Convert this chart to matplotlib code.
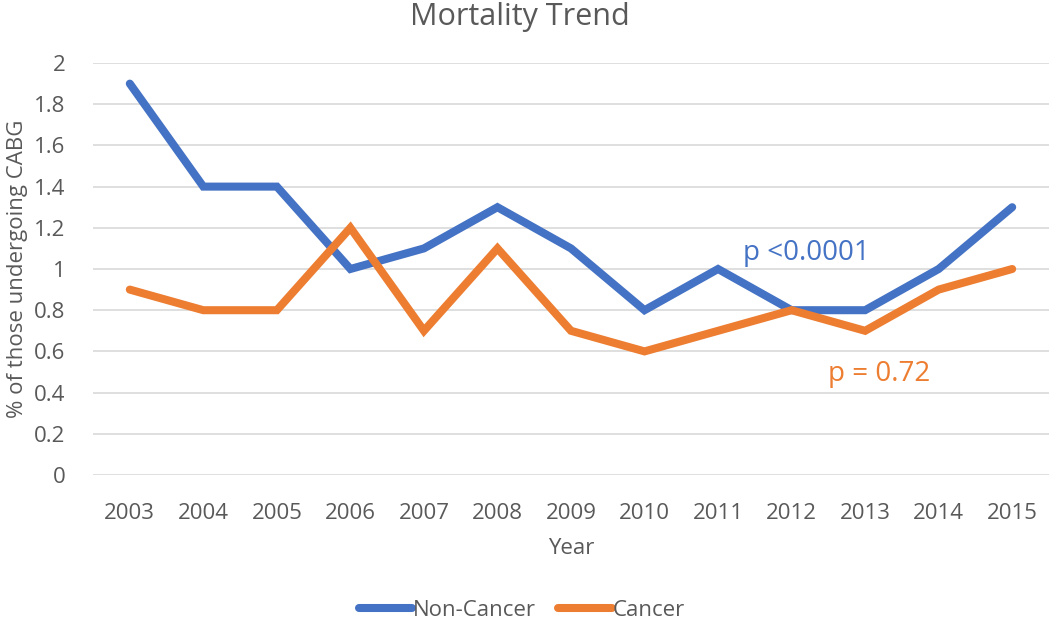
import matplotlib.pyplot as plt

# Mortality trend data (% of those undergoing CABG)
years = ['2003', '2004', '2005', '2006', '2007', '2008', '2009',
         '2010', '2011', '2012', '2013', '2014', '2015']
non_cancer = [1.9, 1.4, 1.4, 1.0, 1.1, 1.3, 1.1, 0.8, 1.0, 0.8, 0.8, 1.0, 1.3]
cancer = [0.9, 0.8, 0.8, 1.2, 0.7, 1.1, 0.7, 0.6, 0.7, 0.8, 0.7, 0.9, 1.0]
y_ticks = [0, 0.2, 0.4, 0.6, 0.8, 1, 1.2, 1.4, 1.6, 1.8, 2]
y_tick_labels = ['0', '0.2', '0.4', '0.6', '0.8', '1', '1.2', '1.4', '1.6', '1.8', '2']

plt.rcParams['font.family'] = ['Open Sans', 'DejaVu Sans']
text_color = '#595959'
blue = '#4472C4'
orange = '#ED7D31'

fig = plt.figure(figsize=(10.5, 6.24), dpi=100)
ax = fig.add_axes([0.0886, 0.2388, 0.9104, 0.6602])

x = list(range(len(years)))
ax.plot(x, non_cancer, color=blue, lw=5.8, solid_joinstyle='miter',
        solid_capstyle='round', label='Non-Cancer', zorder=3)
ax.plot(x, cancer, color=orange, lw=5.8, solid_joinstyle='miter',
        solid_capstyle='round', label='Cancer', zorder=3)

ax.set_xlim(-0.5, len(years) - 0.5)
ax.set_ylim(0, 2)
ax.set_xticks(x)
ax.set_xticklabels(years)
ax.set_yticks(y_ticks)
ax.set_yticklabels(y_tick_labels)
ax.tick_params(length=0, labelsize=16, labelcolor=text_color)
ax.tick_params(axis='y', pad=20)
ax.tick_params(axis='x', pad=20)
ax.grid(axis='y', color='#d9d9d9', lw=1.2)
ax.set_axisbelow(True)
for s in ax.spines.values():
    s.set_visible(False)

ax.set_xlabel('Year', fontsize=16, color=text_color, labelpad=10)
ax.set_ylabel('% of those undergoing CABG', fontsize=16, color=text_color, labelpad=4)

fig.text(0.495, 0.972, 'Mortality Trend', fontsize=22, color=text_color,
         ha='center', va='center')

# p-value annotations
ax.text(8.34, 1.08, 'p <0.0001', fontsize=20, color=blue, ha='left', va='center')
ax.text(9.5, 0.49, 'p = 0.72', fontsize=20, color=orange, ha='left', va='center')

fig.legend(loc='center', bbox_to_anchor=(0.497, 0.022), ncol=2, frameon=False,
           fontsize=16, labelcolor=text_color, handlelength=2.4,
           handletextpad=0.05, columnspacing=1.0)

fig.savefig('out.png', dpi=100)
